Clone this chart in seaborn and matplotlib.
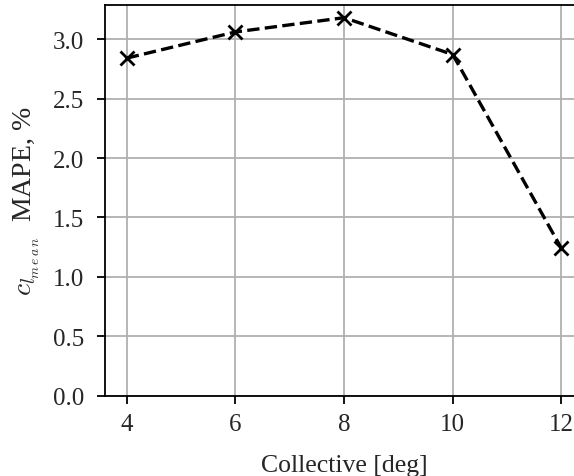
import matplotlib
matplotlib.use("Agg")
import matplotlib.pyplot as plt
import seaborn as sns
import pandas as pd

collective = [4, 6, 8, 10, 12]
mape = [2.84, 3.06, 3.18, 2.87, 1.24]

sns.set_theme(style="ticks")
plt.rcParams['font.family'] = ['Liberation Serif', 'DejaVu Serif']
plt.rcParams['mathtext.fontset'] = 'cm'

df = pd.DataFrame({"Collective": collective, "MAPE": mape})

fig = plt.figure(figsize=(5.74, 4.77), dpi=100)
ax = fig.add_axes([0.183, 0.168, 0.833, 0.819])
ax.grid(True, color="#b0b0b0", linewidth=1.3)
ax.set_axisbelow(True)
sns.lineplot(data=df, x="Collective", y="MAPE", ax=ax, color="black",
             linestyle="--", linewidth=2.4, marker="x", markersize=10,
             markeredgewidth=2, markeredgecolor="black")
ax.set_xlim(3.6, 12.4)
ax.set_ylim(0, 3.285)
ax.set_xticks(collective)
ax.set_yticks([0.0, 0.5, 1.0, 1.5, 2.0, 2.5, 3.0])
ax.set_yticklabels(["0.0", "0.5", "1.0", "1.5", "2.0", "2.5", "3.0"])
ax.tick_params(axis="both", labelsize=18, direction="out", length=6, width=1.3,
               color="black")
ax.tick_params(axis="x", pad=6)
ax.tick_params(axis="y", pad=9)
ax.set_xlabel("Collective [deg]", fontsize=18.5, labelpad=14)
ax.set_ylabel(r"$c_{l_{m\,e\,a\,n}}$  MAPE, %", fontsize=20, labelpad=8)
for s in ax.spines.values():
    s.set_color("black")
    s.set_linewidth(1.3)
fig.savefig("out.png", dpi=100)
